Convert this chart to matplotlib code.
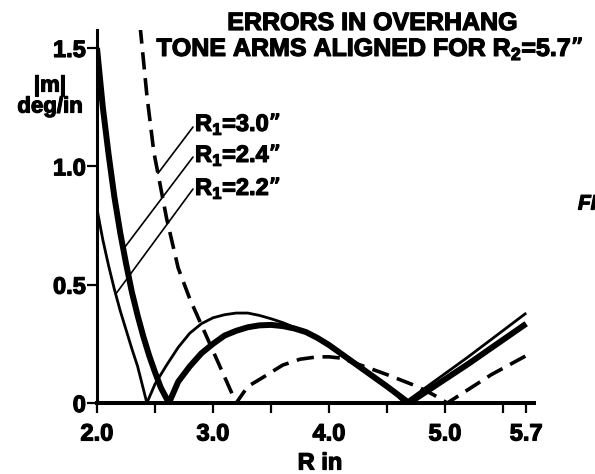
import numpy as np
import matplotlib
matplotlib.use("Agg")
import matplotlib.pyplot as plt
import matplotlib.patheffects as pe

# ---------------- data ----------------
r_22 = [2.0, 2.05, 2.1, 2.15, 2.2, 2.25, 2.3, 2.35, 2.43, 2.5, 2.6, 2.7, 2.8, 2.9,
        3.0, 3.1, 3.2, 3.3, 3.4, 3.5, 3.6, 3.7, 3.8, 3.9, 4.0, 4.1, 4.2, 4.3, 4.4,
        4.5, 4.65, 5.2, 5.7]
m_22 = [0.82, 0.69, 0.58, 0.48, 0.39, 0.31, 0.23, 0.155, 0.0, 0.08, 0.16, 0.235, 0.295, 0.335,
        0.36, 0.373, 0.38, 0.38, 0.37, 0.356, 0.34, 0.32, 0.30, 0.275, 0.25, 0.215, 0.18, 0.145, 0.11,
        0.075, 0.0, 0.195, 0.38]

r_24 = [2.0, 2.05, 2.1, 2.15, 2.2, 2.25, 2.3, 2.35, 2.4, 2.45, 2.5, 2.55, 2.62,
        2.7, 2.8, 2.9, 3.0, 3.1, 3.2, 3.3, 3.4, 3.5, 3.6, 3.7, 3.8, 3.9, 4.0, 4.1,
        4.2, 4.3, 4.4, 4.5, 4.69, 5.2, 5.7]
m_24 = [1.5, 1.25, 1.05, 0.87, 0.72, 0.59, 0.47, 0.37, 0.28, 0.2, 0.13, 0.065, 0.0,
        0.09, 0.155, 0.21, 0.25, 0.285, 0.305, 0.32, 0.328, 0.33, 0.325, 0.315, 0.30, 0.275, 0.245, 0.21,
        0.175, 0.14, 0.105, 0.07, 0.0, 0.165, 0.335]

r_30 = [2.34, 2.37, 2.43, 2.49, 2.6, 2.7, 2.8, 2.9, 3.0, 3.1, 3.2,
        3.3, 3.42, 3.6, 3.75, 3.9, 4.0, 4.1, 4.33, 4.5, 4.76, 4.9, 5.02, 5.4, 5.7]
m_30 = [1.7, 1.6, 1.3, 1.06, 0.78, 0.57, 0.44, 0.33, 0.22, 0.11, 0.0,
        0.07, 0.105, 0.16, 0.185, 0.195, 0.195, 0.19, 0.15, 0.12, 0.07, 0.035, 0.0, 0.12, 0.2]

series_labels = ["R$_\\mathregular{1}$=3.0\u201d",
                 "R$_\\mathregular{1}$=2.4\u201d",
                 "R$_\\mathregular{1}$=2.2\u201d"]
leader_targets = [0.97, 0.65, 0.46]   # m-value where each leader meets its curve

x_ticks = [2.0, 2.5, 3.0, 3.5, 4.0, 4.5, 5.0, 5.5, 5.7]
x_ticklabels = ["2.0", "", "3.0", "", "4.0", "", "5.0", "", "5.7"]
y_ticks = [0, 0.5, 1.0, 1.5]
y_ticklabels = ["0", "0.5", "1.0", "1.5"]

title1 = "ERRORS IN OVERHANG"
title2 = "TONE ARMS ALIGNED FOR R$_\\mathregular{2}$=5.7\u201d"

# ---------------- figure ----------------
plt.rcParams['font.family'] = ['Liberation Sans', 'DejaVu Sans']
plt.rcParams['font.weight'] = 'bold'

W, H = 595, 474
fig = plt.figure(figsize=(W / 100, H / 100), dpi=100)
fig.patch.set_facecolor('white')

heavy = [pe.withStroke(linewidth=0.9, foreground='black')]


def fx(px):
    return px / W


def fy(py):
    return 1 - py / H


ax_l, ax_r, ax_t, ax_b = 97, 534, 30, 403
ax = fig.add_axes([fx(ax_l), fy(ax_b), (ax_r - ax_l) / W, (ax_b - ax_t) / H])
ax.set_xlim(2.0, 2.0 + (ax_r - ax_l) / 116.0)
ax.set_ylim(0, (ax_b - ax_t) / 236.7)

ax.plot(r_22, m_22, color='black', lw=2.0, solid_joinstyle='round', solid_capstyle='butt')
ax.plot(r_24, m_24, color='black', lw=4.3, solid_joinstyle='round', solid_capstyle='butt')
ax.plot(r_30, m_30, color='black', lw=2.6, dashes=(4.8, 2.4))

for side in ['top', 'right']:
    ax.spines[side].set_visible(False)
ax.spines['left'].set_linewidth(2.2)
ax.spines['bottom'].set_linewidth(2.9)

ax.set_xticks(x_ticks)
ax.set_xticklabels(x_ticklabels)
ax.set_yticks(y_ticks)
ax.set_yticklabels(y_ticklabels)
ax.tick_params(axis='x', direction='out', length=7, width=1.6, pad=7, labelsize=17)
ax.tick_params(axis='y', direction='out', length=7, width=1.6, pad=1, labelsize=17)
for t in ax.get_xticklabels() + ax.get_yticklabels():
    t.set_fontweight('bold')
    t.set_path_effects(heavy)

# axis labels
fig.text(fx(50), fy(86), "|m|", ha='center', va='center', fontsize=16,
         fontweight='bold', path_effects=heavy)
fig.text(fx(50), fy(107), "deg/in", ha='center', va='center', fontsize=16,
         fontweight='bold', path_effects=heavy)
fig.text(fx(320), fy(463), "R in", ha='center', va='center', fontsize=17,
         fontweight='bold', path_effects=heavy)

# title
fig.text(fx(372), fy(23), title1, ha='center', va='center', fontsize=18,
         fontweight='bold', path_effects=heavy)
fig.text(fx(370), fy(49), title2, ha='center', va='center', fontsize=18,
         fontweight='bold', path_effects=heavy)

# figure caption fragment at the right edge (cut off in the reference too)
fig.text(fx(578), fy(204), "FI", ha='left', va='center', fontsize=15,
         fontweight='bold', style='italic', path_effects=heavy)

# labels with leader lines
label_y = [124, 155, 188]
lead_start_y = [127, 157, 189]
curves = [(r_30, m_30), (r_24, m_24), (r_22, m_22)]
inv = ax.transData.inverted()
for lab, ly, sy, target, (rr, mm) in zip(series_labels, label_y, lead_start_y, leader_targets, curves):
    fig.text(fx(195), fy(ly), lab, ha='left', va='center', fontsize=17,
             fontweight='bold', path_effects=heavy)
    rr_a = np.array(rr)
    mm_a = np.array(mm)
    k = int(np.argmin(mm_a))
    xr = np.interp(target, mm_a[:k + 1][::-1], rr_a[:k + 1][::-1])
    start = inv.transform(fig.transFigure.transform((fx(193), fy(sy))))
    ax.annotate("", xy=(xr, target), xytext=(start[0], start[1]),
                arrowprops=dict(arrowstyle='-', lw=1.2, color='black',
                                shrinkA=0, shrinkB=0),
                annotation_clip=False)

fig.savefig("out.png", dpi=100, facecolor='white')
